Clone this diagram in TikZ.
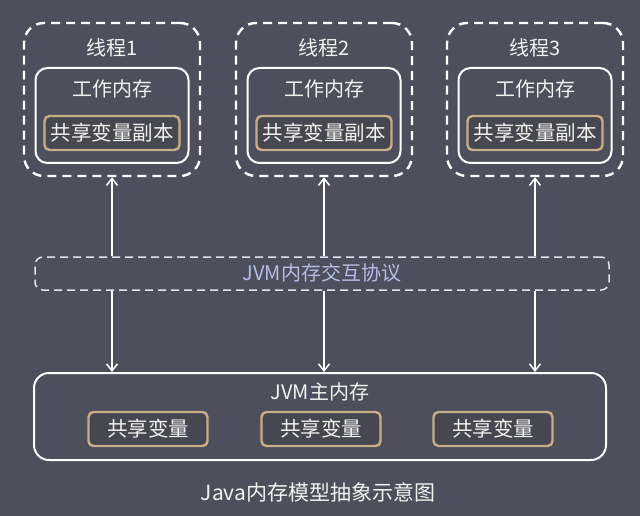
\documentclass[tikz,border=0pt]{standalone}
\usepackage{fontspec}
\setmainfont{Noto Sans CJK SC}
\usetikzlibrary{arrows.meta}
\definecolor{bgc}{HTML}{4D4F5C}
\definecolor{tanc}{HTML}{C9AD86}
\definecolor{boxfill}{HTML}{464751}
\definecolor{txtc}{HTML}{F2F2F2}
\definecolor{protoline}{HTML}{E2E4F4}
\definecolor{prototxt}{HTML}{B4BDE6}
\tikzset{
  threadbox/.style={draw=white, line width=2.4pt, dash pattern=on 9pt off 6pt, rounded corners=20pt, minimum width=176pt, minimum height=153pt, inner sep=0pt},
  workbox/.style={draw=white, line width=2pt, rounded corners=12pt, minimum width=153pt, minimum height=95pt, inner sep=0pt},
  varbox/.style={draw=tanc, fill=boxfill, line width=2.4pt, rounded corners=5pt, minimum height=34pt, inner sep=0pt, text=txtc, font=\fontsize{20.5}{24}\selectfont},
  protobox/.style={draw=protoline, line width=1.5pt, dash pattern=on 8pt off 5pt, rounded corners=8pt, minimum width=574pt, minimum height=33pt, inner sep=0pt},
  mainbox/.style={draw=white, line width=2pt, rounded corners=15pt, minimum width=572pt, minimum height=87pt, inner sep=0pt},
  lbl/.style={text=txtc, font=\fontsize{20}{24}\selectfont, inner sep=0pt},
  arr/.style={draw=white, line width=1.5pt, -{Straight Barb[length=7pt,width=11pt,line width=1.5pt]}}
}
\begin{document}
\begin{tikzpicture}[x=1pt,y=-1pt]
\fill[bgc] (0,0) rectangle (640,516);
\useasboundingbox (0,0) rectangle (640,516);
% threads
\foreach \i/\x in {1/112,2/324,3/535}{
  \node[threadbox] (t\i) at (\x,99.5) {};
  \node[lbl] (tl\i) at (\x,48) {线程\i};
  \node[workbox] (w\i) at (\x,115.5) {};
  \node[lbl] (wl\i) at (\x,89) {工作内存};
  \node[varbox, minimum width=135pt] (c\i) at (\x,133) {共享变量副本};
}
% protocol
\node[protobox] (p) at (322,273.5) {};
\node[text=prototxt, font=\fontsize{20}{24}\selectfont, inner sep=0pt] (pl) at (322,273) {JVM内存交互协议};
% main memory
\node[mainbox] (m) at (320,416.5) {};
\node[lbl] (ml) at (320,392) {JVM主内存};
\node[varbox, minimum width=119pt] (v1) at (148,429) {共享变量};
\node[varbox, minimum width=119pt] (v2) at (321,429) {共享变量};
\node[varbox, minimum width=119pt] (v3) at (493,429) {共享变量};
% arrows
\foreach \i in {1,2,3}{
  \draw[arr] (t\i.south |- p.north) -- (t\i.south);
  \draw[arr] (t\i.south |- p.south) -- (t\i.south |- m.north);
}
% caption
\node[text=txtc, font=\fontsize{21}{25}\selectfont, inner sep=0pt] (cap) at (318,492) {Java内存模型抽象示意图};
\end{tikzpicture}
\end{document}
